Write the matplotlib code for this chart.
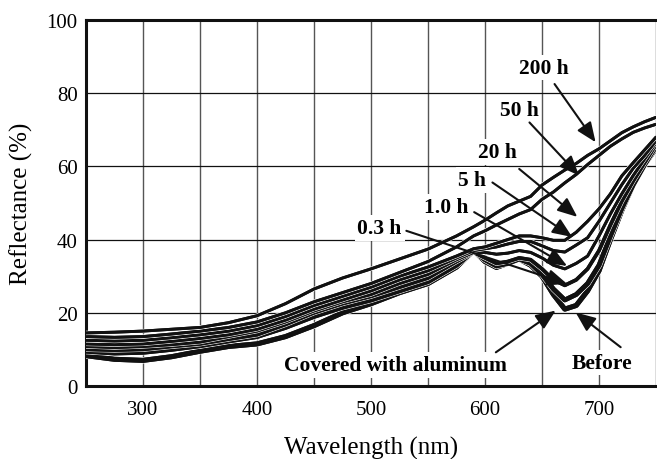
import numpy as np
import matplotlib
matplotlib.use('Agg')
import matplotlib.pyplot as plt
import matplotlib.patheffects as pe

# wavelength grid (nm) and reflectance (%)
wavelength = [250, 275, 300, 325, 350, 375, 400, 425, 450, 475, 500, 525, 550, 575,
              590, 600, 610, 620, 630, 640, 650, 660, 670, 680, 690, 700, 710, 720,
              730, 740, 750]

r_200h = [14.5, 14.7, 15.0, 15.5, 16.0, 17.3, 19.2, 22.5, 26.5, 29.5, 32.0, 34.7, 37.4, 41.0,
          43.5, 45.3, 47.3, 49.2, 50.5, 51.8, 54.9, 57.0, 59.0, 60.8, 63.0, 64.8, 67.0, 69.2,
          70.8, 72.2, 73.4]
r_50h = [13.5, 13.3, 13.5, 14.2, 15.0, 16.0, 17.5, 20.0, 23.0, 25.5, 28.0, 31.0, 34.0, 38.0,
         41.0, 42.4, 44.0, 45.5, 47.0, 48.2, 51.0, 53.0, 55.5, 57.8, 60.5, 63.0, 65.5, 67.5,
         69.3, 70.5, 71.5]
r_20h = [12.5, 12.3, 12.5, 13.2, 14.0, 15.0, 16.5, 19.0, 22.0, 24.5, 27.0, 30.0, 32.5, 35.5,
         37.5, 38.0, 39.0, 40.0, 41.0, 41.0, 40.5, 39.8, 39.8, 42.0, 45.0, 48.4, 52.5, 57.4,
         61.0, 64.5, 68.0]
r_5h = [11.5, 11.3, 11.5, 12.2, 13.0, 14.0, 15.5, 18.0, 21.0, 23.5, 26.0, 29.0, 31.5, 35.0,
        37.0, 37.5, 38.0, 38.8, 39.5, 39.5, 38.3, 37.0, 36.6, 38.5, 40.5, 45.0, 50.0, 55.0,
        59.5, 63.0, 67.0]
r_1h = [10.8, 10.5, 10.8, 11.3, 12.0, 13.5, 15.0, 17.5, 20.5, 23.0, 25.0, 28.0, 30.5, 34.5,
        36.5, 36.5, 36.0, 36.3, 37.0, 36.5, 35.0, 33.0, 32.0, 33.5, 35.5, 41.0, 47.0, 52.5,
        57.5, 62.0, 66.5]
r_03h = [10.0, 9.8, 10.0, 10.8, 11.5, 12.8, 14.0, 16.8, 20.0, 22.5, 24.5, 27.0, 29.5, 34.0,
         36.5, 35.0, 33.5, 34.0, 35.0, 34.5, 32.0, 29.0, 27.5, 29.0, 32.0, 37.0, 44.0, 50.5,
         56.0, 61.0, 66.0]
r_covered = [9.5, 9.0, 9.2, 10.0, 11.0, 12.3, 13.5, 16.0, 19.0, 21.5, 23.5, 26.0, 28.5, 33.0,
             36.8, 34.5, 32.8, 33.5, 34.7, 33.5, 30.5, 26.5, 23.5, 25.0, 28.0, 33.0, 41.0, 48.5,
             55.0, 60.5, 65.5]
r_before = [8.3, 7.3, 7.0, 8.0, 9.5, 10.8, 11.5, 13.5, 16.5, 20.0, 22.5, 25.5, 28.0, 32.5,
            37.0, 34.0, 32.4, 33.5, 34.7, 33.0, 30.0, 25.0, 21.0, 22.0, 26.0, 31.5, 40.0, 48.0,
            55.0, 60.5, 65.0]

x_ticks = [300, 400, 500, 600, 700]
y_ticks = [0, 20, 40, 60, 80, 100]

plt.rcParams['font.family'] = ['Liberation Serif', 'DejaVu Serif']

fig = plt.figure(figsize=(6.57, 4.60), dpi=100)
ax = fig.add_axes([0.1309, 0.1587, 0.8676, 0.7957])

# curves, thick ones first so thin ones sit on top with a white halo
series = [
    (r_before, 3.6),
    (r_covered, 3.4),
    (r_03h, 2.6),
    (r_1h, 2.1),
    (r_5h, 2.1),
    (r_20h, 2.1),
    (r_50h, 2.1),
    (r_200h, 2.1),
]
for vals, lw in series:
    ax.plot(wavelength, vals, color='#111111', lw=lw, solid_capstyle='round', zorder=3,
            path_effects=[pe.withStroke(linewidth=lw + 1.0, foreground='white'), pe.Normal()])

ax.set_xlim(250, 750)
ax.set_ylim(0, 100)
ax.set_xticks(x_ticks)
ax.set_xticks(np.arange(250, 751, 50), minor=True)
ax.set_yticks(y_ticks)
ax.tick_params(axis='both', which='both', length=0, labelsize=15)
ax.tick_params(axis='x', pad=10)
ax.tick_params(axis='y', pad=6)

ax.grid(True, axis='x', which='both', color='#555555', lw=1.0, zorder=0)
ax.grid(True, axis='y', which='major', color='#111111', lw=0.9, zorder=0)
ax.set_axisbelow(True)

for side in ['left', 'bottom', 'top']:
    ax.spines[side].set_linewidth(2.2)
    ax.spines[side].set_color('#111111')
ax.spines['right'].set_visible(False)

ax.set_xlabel('Wavelength (nm)', fontsize=18, labelpad=12)
ax.set_ylabel('Reflectance (%)', fontsize=18, labelpad=10)

# labels and arrows
labels = [
    ('200 h', (652, 87), (661, 82.5), (697, 66.6)),
    ('50 h', (630, 75.4), (639, 72), (682.5, 57.5)),
    ('20 h', (611, 64), (630, 59.3), (681, 46.2)),
    ('5 h', (589, 56.3), (606.5, 55.6), (676.5, 40.7)),
    ('1.0 h', (566, 48.9), (590.5, 47.5), (672, 32.8)),
    ('0.3 h', (507.5, 43.2), (531, 42.4), (672, 27.9)),
    ('Covered with aluminum', (521.5, 5.7), (609.5, 9.2), (662, 20.6)),
    ('Before', (703, 6.4), (719, 10.6), (679.5, 20.1)),
]
for text, pos, start, tip in labels:
    ax.text(pos[0], pos[1], text, fontsize=15.5, fontweight='bold', ha='center', va='center',
            zorder=4, bbox=dict(facecolor='white', edgecolor='none', pad=2))
    ax.annotate('', xy=tip, xytext=start, zorder=5,
                arrowprops=dict(arrowstyle='-|>,head_length=0.6,head_width=0.25',
                                mutation_scale=20, lw=1.5, color='#111111',
                                shrinkA=0, shrinkB=0))

fig.savefig('out.png', dpi=100)
